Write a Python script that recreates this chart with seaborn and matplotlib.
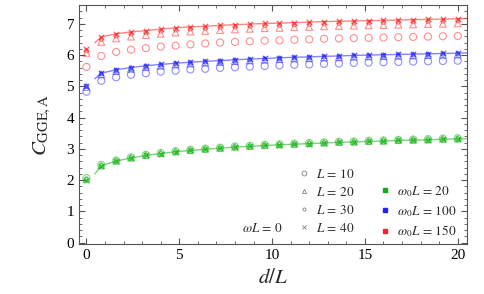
import numpy as np
import pandas as pd
import matplotlib
matplotlib.use("Agg")
import matplotlib.pyplot as plt
from matplotlib.lines import Line2D
from matplotlib.ticker import MultipleLocator
import seaborn as sns

# d/L sample points
d_over_L = [0.0, 0.8, 1.6, 2.4, 3.2, 4.0, 4.8, 5.6, 6.4, 7.2, 8.0, 8.8, 9.6,
            10.4, 11.2, 12.0, 12.8, 13.6, 14.4, 15.2, 16.0, 16.8, 17.6, 18.4, 19.2, 20.0]

# omega_0 L = 150 (red)
red_L10 = [5.62, 5.97, 6.10, 6.17, 6.22, 6.27, 6.30, 6.34, 6.37, 6.40, 6.42, 6.44, 6.46,
           6.47, 6.49, 6.50, 6.52, 6.53, 6.54, 6.55, 6.56, 6.57, 6.58, 6.59, 6.60, 6.61]
red_L20 = [6.07, 6.42, 6.53, 6.59, 6.64, 6.68, 6.72, 6.75, 6.77, 6.80, 6.82, 6.84, 6.86,
           6.87, 6.89, 6.90, 6.92, 6.93, 6.94, 6.95, 6.96, 6.97, 6.98, 6.99, 7.00, 7.01]
red_L30 = [6.14, 6.50, 6.61, 6.67, 6.71, 6.76, 6.80, 6.83, 6.85, 6.88, 6.90, 6.92, 6.94,
           6.95, 6.97, 6.98, 7.00, 7.01, 7.02, 7.03, 7.04, 7.05, 7.06, 7.07, 7.08, 7.09]
red_L40 = [6.20, 6.58, 6.68, 6.74, 6.78, 6.83, 6.87, 6.90, 6.92, 6.95, 6.97, 6.99, 7.01,
           7.02, 7.04, 7.05, 7.07, 7.08, 7.09, 7.10, 7.11, 7.12, 7.13, 7.14, 7.15, 7.16]

# omega_0 L = 100 (blue)
blue_L10 = [4.83, 5.18, 5.29, 5.37, 5.42, 5.47, 5.50, 5.54, 5.56, 5.59, 5.61, 5.63, 5.65,
            5.67, 5.69, 5.70, 5.72, 5.73, 5.75, 5.76, 5.77, 5.78, 5.79, 5.80, 5.81, 5.82]
blue_L20 = [4.98, 5.38, 5.49, 5.56, 5.62, 5.66, 5.70, 5.73, 5.76, 5.78, 5.81, 5.83, 5.85,
            5.87, 5.89, 5.90, 5.92, 5.93, 5.95, 5.96, 5.97, 5.98, 5.99, 6.00, 6.01, 6.02]
blue_L30 = [5.00, 5.40, 5.51, 5.58, 5.64, 5.68, 5.72, 5.75, 5.78, 5.80, 5.83, 5.85, 5.87,
            5.89, 5.91, 5.92, 5.94, 5.95, 5.97, 5.98, 5.99, 6.00, 6.01, 6.02, 6.03, 6.04]
blue_L40 = [5.02, 5.42, 5.53, 5.60, 5.66, 5.70, 5.74, 5.77, 5.80, 5.82, 5.85, 5.87, 5.89,
            5.91, 5.93, 5.94, 5.96, 5.97, 5.99, 6.00, 6.01, 6.02, 6.03, 6.04, 6.05, 6.06]

# omega_0 L = 20 (green)
green_L10 = [2.07, 2.49, 2.63, 2.73, 2.81, 2.87, 2.93, 2.97, 3.01, 3.04, 3.08, 3.10, 3.13,
             3.15, 3.17, 3.19, 3.21, 3.23, 3.24, 3.26, 3.27, 3.29, 3.30, 3.31, 3.33, 3.34]
green_L20 = [2.03, 2.47, 2.62, 2.72, 2.80, 2.86, 2.92, 2.96, 3.00, 3.03, 3.07, 3.09, 3.12,
             3.14, 3.16, 3.18, 3.20, 3.22, 3.23, 3.25, 3.26, 3.28, 3.29, 3.30, 3.32, 3.33]
green_L30 = green_L20
green_L40 = [2.01, 2.46, 2.61, 2.71, 2.79, 2.85, 2.91, 2.95, 2.99, 3.02, 3.06, 3.08, 3.11,
             3.13, 3.15, 3.17, 3.19, 3.21, 3.22, 3.24, 3.25, 3.27, 3.28, 3.29, 3.31, 3.32]

# continuum curves (start just right of d/L = 0)
curve_x = [0.45] + d_over_L[1:] + [20.5]
red_curve = [6.39] + red_L40[1:] + [7.17]
blue_curve = [5.24] + blue_L40[1:] + [6.07]
green_curve = [2.20] + green_L40[1:] + [3.33]

sns.set_style("ticks")
plt.rcParams["font.family"] = ["Liberation Serif", "DejaVu Serif"]
plt.rcParams["mathtext.fontset"] = "stix"

fig = plt.figure(figsize=(4.85, 2.94), dpi=100)
ax = fig.add_axes([79 / 485, 50 / 294, 388 / 485, 239 / 294])

colors = {"150": "#ff2020", "100": "#2020ff", "20": "#10b010"}
series = {
    "150": (red_L10, red_L20, red_L30, red_L40, red_curve),
    "100": (blue_L10, blue_L20, blue_L30, blue_L40, blue_curve),
    "20": (green_L10, green_L20, green_L30, green_L40, green_curve),
}
marker_style = [("o", 26), ("^", 24), ("o", 8), ("x", 14)]

for key, vals in series.items():
    c = colors[key]
    sns.lineplot(x=curve_x, y=vals[4], ax=ax, color=c, alpha=0.55, lw=1.0)
    for (m, s), yv in zip(marker_style, vals[:4]):
        df = pd.DataFrame({"d": d_over_L, "C": yv})
        if m == "x":
            sns.scatterplot(data=df, x="d", y="C", ax=ax, marker="x", s=s,
                            color=c, alpha=0.7, linewidth=1.0)
        else:
            sns.scatterplot(data=df, x="d", y="C", ax=ax, marker=m, s=s,
                            facecolor="none", edgecolor=c, alpha=0.5, linewidth=0.8)

ax.set_xlim(-0.4, 20.5)
ax.set_ylim(-0.04, 7.6)
ax.xaxis.set_major_locator(MultipleLocator(5))
ax.xaxis.set_minor_locator(MultipleLocator(1))
ax.yaxis.set_major_locator(MultipleLocator(1))
ax.yaxis.set_minor_locator(MultipleLocator(0.2))
ax.tick_params(which="both", direction="in", top=True, right=True, colors="#555555",
               labelcolor="black", labelsize=11)
ax.tick_params(which="major", length=4)
ax.tick_params(which="minor", length=2)
for sp in ax.spines.values():
    sp.set_color("#555555")
    sp.set_linewidth(0.8)

ax.set_xlabel(r"$d/L$", fontsize=15, labelpad=5)
ax.set_ylabel(r"$C_{\mathrm{GGE,A}}$", fontsize=15, labelpad=10)

gray = "#808080"
h1 = [
    Line2D([], [], ls="none", marker="o", ms=3.5, mfc="none", mec=gray, mew=0.6),
    Line2D([], [], ls="none", marker="^", ms=3, mfc="none", mec=gray, mew=0.6),
    Line2D([], [], ls="none", marker="o", ms=2.2, mfc="none", mec=gray, mew=0.6),
    Line2D([], [], ls="none", marker="x", ms=2.5, mec=gray, mew=0.6),
]
leg1 = ax.legend(h1, [r"$L\,=\,10$", r"$L\,=\,20$", r"$L\,=\,30$", r"$L\,=\,40$"],
                 loc="upper left", bbox_to_anchor=(299 / 485, 1 - 168 / 294),
                 bbox_transform=fig.transFigure, frameon=False, fontsize=9.5,
                 handlelength=0.8, handletextpad=0.5, labelspacing=0.38,
                 borderpad=0, borderaxespad=0)
ax.add_artist(leg1)

h2 = [Line2D([], [], ls="none", marker="s", ms=2.6, color=colors[k]) for k in ["20", "100", "150"]]
ax.legend(h2, [r"$\omega_0 L\,=\,20$", r"$\omega_0 L\,=\,100$", r"$\omega_0 L\,=\,150$"],
          loc="upper left", bbox_to_anchor=(380 / 485, 1 - 184 / 294),
          bbox_transform=fig.transFigure, frameon=False, fontsize=9.5,
          handlelength=0.8, handletextpad=0.5, labelspacing=0.38,
          borderpad=0, borderaxespad=0)

fig.text(262 / 485, 1 - 228 / 294, r"$\omega L\,=\,0$", fontsize=9.5,
         ha="center", va="center")

fig.savefig("out.png", dpi=100)
